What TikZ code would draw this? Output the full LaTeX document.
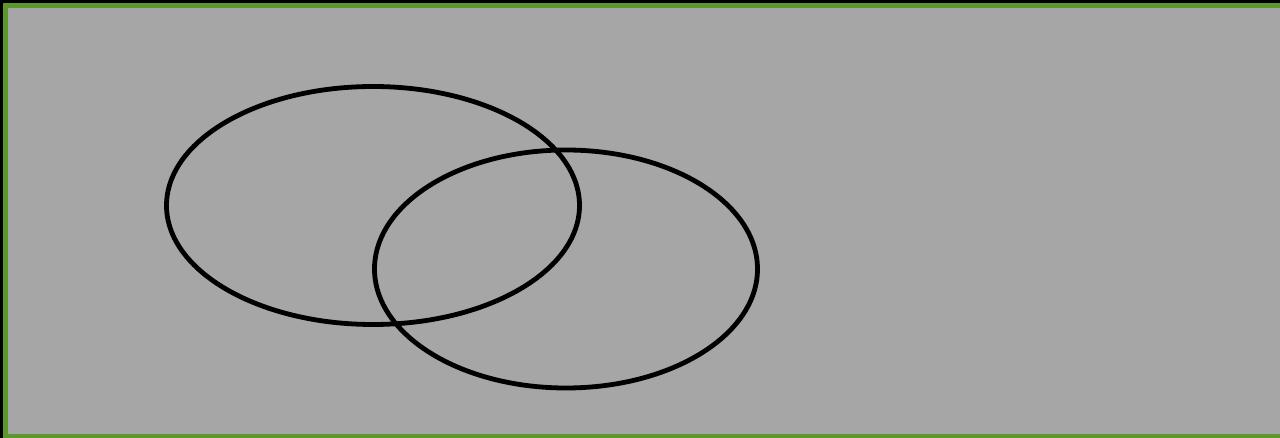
\documentclass[tikz,border=0pt]{standalone}
\usetikzlibrary{shapes.geometric}
\definecolor{bgray}{HTML}{A6A6A6}
\definecolor{bgreen}{HTML}{5A9A2C}
\tikzset{venn/.style={draw=black,line width=4.8pt,ellipse,inner sep=0pt,outer sep=0pt}}
\begin{document}
\begin{tikzpicture}[x=1pt,y=-1pt]
\fill[black] (0,0) rectangle (1280,438);
\useasboundingbox (0,0) rectangle (1280,438);
\draw[bgreen,fill=bgray,line width=5pt] (5.5,5.5) rectangle (1290,436);
\node[venn,minimum width=413pt,minimum height=238pt] (e1) at (373,205.5) {};
\node[venn,minimum width=383pt,minimum height=238pt] (e2) at (566,269) {};
\end{tikzpicture}
\end{document}
